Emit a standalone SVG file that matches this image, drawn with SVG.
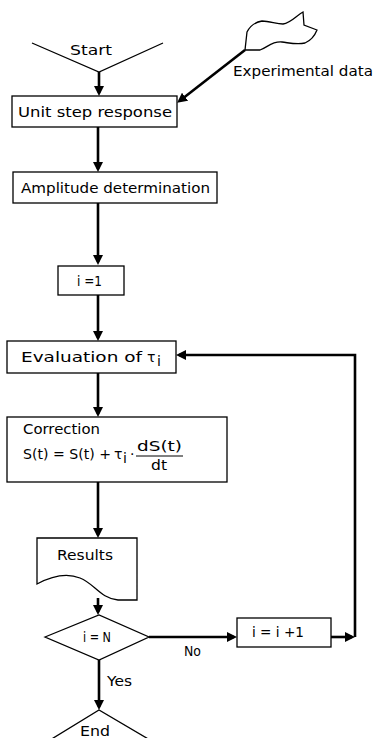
<svg xmlns="http://www.w3.org/2000/svg" width="375" height="738" viewBox="0 0 375 738">
<style>
.box{fill:#fff;stroke:#000;stroke-width:1.3}
.term{fill:none;stroke:#000;stroke-width:1.3}
.t{font-family:"DejaVu Sans","Liberation Sans",sans-serif;font-size:14px;fill:#000}
.c{stroke:#000;stroke-width:2.6;fill:none}
</style>
<defs>
<marker id="ah" markerWidth="10" markerHeight="10" refX="7" refY="5" orient="auto" markerUnits="userSpaceOnUse">
<path d="M0,0 L10,5 L0,10 Z" fill="#000"/>
</marker>
</defs>
<g id="connectors">
<line class="c" x1="99" y1="72" x2="99" y2="93" marker-end="url(#ah)"/>
<line class="c" x1="245" y1="50" x2="179.5" y2="101" marker-end="url(#ah)"/>
<line class="c" x1="98" y1="127" x2="98" y2="169" marker-end="url(#ah)"/>
<line class="c" x1="98" y1="203" x2="98" y2="262" marker-end="url(#ah)"/>
<line class="c" x1="98" y1="295" x2="98" y2="338" marker-end="url(#ah)"/>
<line class="c" x1="98" y1="373" x2="98" y2="414" marker-end="url(#ah)"/>
<line class="c" x1="98" y1="482" x2="98" y2="535" marker-end="url(#ah)"/>
<line class="c" x1="98" y1="598" x2="98" y2="612" marker-end="url(#ah)"/>
<line class="c" x1="149" y1="637" x2="234" y2="637" marker-end="url(#ah)"/>
<text class="t" x="184" y="656" textLength="17" lengthAdjust="spacingAndGlyphs">No</text>
<line class="c" x1="331" y1="637" x2="352" y2="637" marker-end="url(#ah)"/>
<polyline class="c" points="355,637 355,355 179,355" marker-end="url(#ah)"/>
<line class="c" x1="99" y1="660" x2="99" y2="707" marker-end="url(#ah)"/>
<text class="t" x="107" y="686" textLength="25" lengthAdjust="spacingAndGlyphs">Yes</text>
</g>
<g id="start">
<polyline class="term" points="32,43 99,72 163,43"/>
<text class="t" x="70" y="55" textLength="42" lengthAdjust="spacingAndGlyphs">Start</text>
</g>
<g id="experimental-data">
<path class="term" d="M245,50 L247,32 C250,26 256,22 262,21 C270,21 276,24 283,24 C291,23 297,15 303,12 L304,25 L317,30 C315,35 312,40 305,43 C297,45 290,43 282,42 C272,41 268,47 260,50 Z"/>
<text class="t" x="233" y="76" textLength="140" lengthAdjust="spacingAndGlyphs">Experimental data</text>
</g>
<g id="unit-step">
<rect class="box" x="12" y="96" width="165" height="31"/>
<text class="t" x="18" y="117" textLength="154" lengthAdjust="spacingAndGlyphs">Unit step response</text>
</g>
<g id="amplitude">
<rect class="box" x="13" y="172" width="204" height="31"/>
<text class="t" x="21" y="193" textLength="189" lengthAdjust="spacingAndGlyphs">Amplitude determination</text>
</g>
<g id="init">
<rect class="box" x="58" y="266" width="66" height="29"/>
<text class="t" x="77" y="286" textLength="25" lengthAdjust="spacingAndGlyphs">i =1</text>
</g>
<g id="evaluation">
<rect class="box" x="7" y="341" width="169" height="32"/>
<text class="t" x="21" y="362" textLength="121" lengthAdjust="spacingAndGlyphs">Evaluation of</text>
<text class="t" x="147" y="362" font-size="16">τ</text>
<text class="t" x="157" y="366" font-size="10">i</text>
</g>
<g id="correction">
<rect class="box" x="7" y="417" width="220" height="65"/>
<text class="t" x="23" y="434" textLength="77" lengthAdjust="spacingAndGlyphs">Correction</text>
<text class="t" x="23" y="459" textLength="88" lengthAdjust="spacingAndGlyphs">S(t) = S(t) +</text>
<text class="t" x="114" y="459" font-size="16">τ</text>
<text class="t" x="123" y="463" font-size="10">i</text>
<text class="t" x="130" y="459">·</text>
<text class="t" x="137" y="451" textLength="45" lengthAdjust="spacingAndGlyphs">dS(t)</text>
<line x1="136" y1="456" x2="183" y2="456" stroke="#000" stroke-width="1"/>
<text class="t" x="151" y="470" textLength="16" lengthAdjust="spacingAndGlyphs">dt</text>
</g>
<g id="results">
<path class="box" d="M37,538 L137,538 L137,600 L118,600 C100,598 95,584 80,578 C65,572 50,577 37,584 Z"/>
<text class="t" x="57" y="560" textLength="56" lengthAdjust="spacingAndGlyphs">Results</text>
</g>
<g id="decision">
<polygon class="box" points="45,637 99,615 149,637 99,660"/>
<text class="t" x="83" y="642" textLength="28" lengthAdjust="spacingAndGlyphs">i = N</text>
</g>
<g id="increment">
<rect class="box" x="237" y="618" width="94" height="29"/>
<text class="t" x="252" y="637" textLength="52" lengthAdjust="spacingAndGlyphs">i = i +1</text>
</g>
<g id="end">
<polyline class="term" points="50,740 99,710 150,740"/>
<text class="t" x="80" y="736" textLength="30" lengthAdjust="spacingAndGlyphs">End</text>
</g>
</svg>
